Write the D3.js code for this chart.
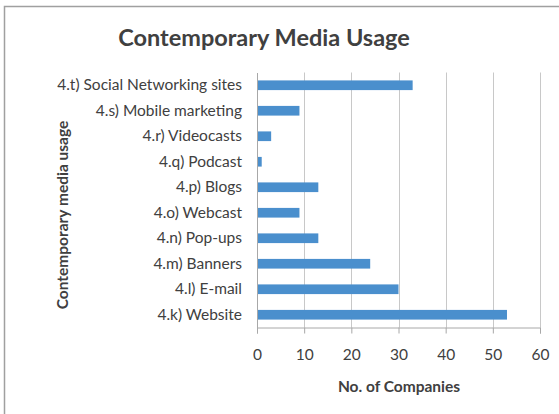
<!DOCTYPE html>
<html>
<head>
<meta charset="utf-8">
<script src="https://cdn.jsdelivr.net/npm/d3@7"></script>
<style>
  html, body { margin: 0; padding: 0; background: #fff; }
  svg { display: block; }
  text { font-family: Lato, "Open Sans", sans-serif; fill: #404040; }
</style>
</head>
<body>
<svg id="chart" width="559" height="414"></svg>
<script>
// Media channels, listed bottom-to-top as in the survey numbering
const categories = [
  "4.k) Website",
  "4.l) E-mail",
  "4.m) Banners",
  "4.n) Pop-ups",
  "4.o) Webcast",
  "4.p) Blogs",
  "4.q) Podcast",
  "4.r) Videocasts",
  "4.s) Mobile marketing",
  "4.t) Social Networking sites"
];
const companies = [53, 30, 24, 13, 9, 13, 1, 3, 9, 33];
const xTicks = [0, 10, 20, 30, 40, 50, 60];

const chartTitle = "Contemporary Media Usage";
const xTitle = "No. of Companies";
const yTitle = "Contemporary media usage";

const svg = d3.select("#chart");
const plot = { left: 257, right: 540, top: 72.5, bottom: 327.5 };
const labelSize = "15.5px";

// Outer chart frame
svg.append("rect")
  .attr("x", 4.5).attr("y", 6.5)
  .attr("width", 570).attr("height", 420)
  .attr("fill", "none")
  .attr("stroke", "#a0a0a0")
  .attr("stroke-width", 1.5);

const x = d3.scaleLinear().domain([0, 60]).range([plot.left, plot.right]);
const y = d3.scaleBand()
  .domain(categories.slice().reverse())
  .range([plot.top, plot.bottom])
  .paddingInner(0.62)
  .paddingOuter(0.31);

// Vertical gridlines
svg.append("g")
  .selectAll("line")
  .data(xTicks.slice(1))
  .join("line")
  .attr("x1", d => Math.round(x(d)) + 0.5)
  .attr("x2", d => Math.round(x(d)) + 0.5)
  .attr("y1", plot.top)
  .attr("y2", plot.bottom)
  .attr("stroke", "#c8c8c8")
  .attr("stroke-width", 1);

// Bars
svg.append("g")
  .selectAll("rect")
  .data(categories.map((c, i) => ({ c, v: companies[i] })))
  .join("rect")
  .attr("x", x(0))
  .attr("y", d => y(d.c))
  .attr("width", d => x(d.v) - x(0))
  .attr("height", y.bandwidth())
  .attr("fill", "#4a8fcd");

// Bottom value axis
const xAxis = d3.axisBottom(x)
  .tickValues(xTicks)
  .tickSize(6)
  .tickPadding(15)
  .tickFormat(d3.format("d"));

const gx = svg.append("g")
  .attr("transform", `translate(0,${plot.bottom})`)
  .call(xAxis);
gx.select(".domain").attr("stroke", "#a8a8a8");
gx.selectAll(".tick line").attr("stroke", "#a8a8a8");
gx.selectAll(".tick text")
  .attr("fill", "#555")
  .style("font-size", labelSize)
  .style("font-family", "Lato, sans-serif");

// Left category axis
const yAxis = d3.axisLeft(y).tickSize(0).tickPadding(15);
const gy = svg.append("g")
  .attr("transform", `translate(${plot.left},0)`)
  .call(yAxis);
gy.select(".domain").attr("stroke", "#a8a8a8");
gy.selectAll(".tick text")
  .attr("fill", "#444")
  .style("font-size", labelSize)
  .style("font-family", "Lato, sans-serif");

// Titles
svg.append("text")
  .attr("x", 264).attr("y", 46)
  .attr("text-anchor", "middle")
  .style("font-size", "23.5px")
  .style("font-weight", "bold")
  .attr("fill", "#111")
  .text(chartTitle);

svg.append("text")
  .attr("x", 399).attr("y", 392)
  .attr("text-anchor", "middle")
  .style("font-size", labelSize)
  .style("font-weight", "bold")
  .attr("fill", "#222")
  .text(xTitle);

svg.append("text")
  .attr("transform", "translate(68,215) rotate(-90)")
  .attr("text-anchor", "middle")
  .style("font-size", labelSize)
  .style("font-weight", "bold")
  .attr("fill", "#222")
  .text(yTitle);
</script>
</body>
</html>
